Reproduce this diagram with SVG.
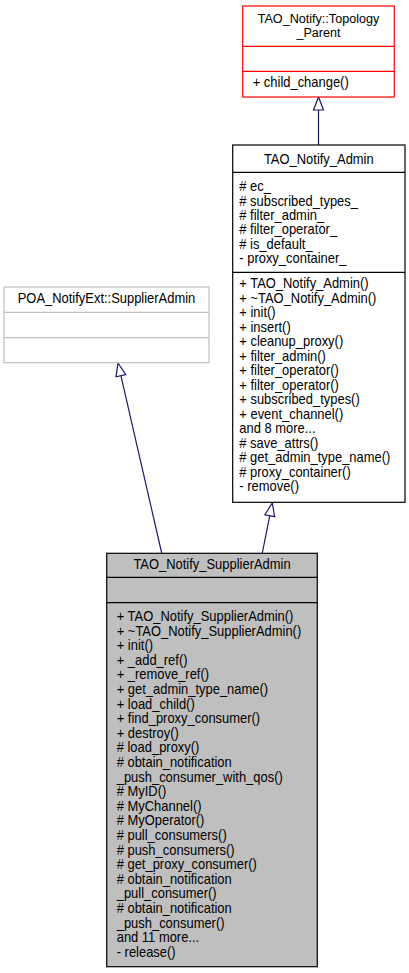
<svg xmlns="http://www.w3.org/2000/svg" width="409" height="973" viewBox="0 0 409 973">
<style>
text{font-family:"Liberation Sans",Arial,sans-serif;font-size:14px;fill:#000}
.c{text-anchor:middle}
.t2{font-size:13.5px}
.edge{stroke:#191970;stroke-width:1.2;fill:none}
.head{stroke:#191970;stroke-width:1.2;fill:#fff}
</style>
<rect width="409" height="973" fill="#fff"/>
<g id="connectors">
<line class="edge" x1="318.5" y1="145" x2="318.5" y2="110"/>
<polygon class="head" points="318.5,97 313.5,110 323.5,110"/>
<line class="edge" x1="161.7" y1="553" x2="120.9" y2="375.7"/>
<polygon class="head" points="118,363 125.8,374.6 116,376.8"/>
<line class="edge" x1="262.3" y1="553" x2="269.75" y2="515.7"/>
<polygon class="head" points="272.3,503 274.65,516.7 264.85,514.8"/>
</g>
<g id="topology_parent">
<rect x="242.7" y="6" width="151.6" height="91" fill="#fff" stroke="#ff0000" stroke-width="1.2"/>
<line x1="242.7" y1="46.3" x2="394.3" y2="46.3" stroke="#ff0000" stroke-width="1.2"/>
<line x1="242.7" y1="71.3" x2="394.3" y2="71.3" stroke="#ff0000" stroke-width="1.2"/>
<g transform="translate(318.5 0) scale(0.935 1)">
<text class="c t2" x="0" y="22.6">TAO_Notify::Topology</text>
<text class="c t2" x="0" y="37.4">_Parent</text>
</g>
<g transform="translate(252.7 0) scale(0.925 1)">
<text x="0" y="87.3">+ child_change()</text>
</g>
</g>
<g id="notify_admin">
<rect x="232.7" y="145" width="172.3" height="357.3" fill="#fff" stroke="#000" stroke-width="1.2"/>
<line x1="232.7" y1="172.3" x2="405" y2="172.3" stroke="#000" stroke-width="1.2"/>
<line x1="232.7" y1="272.3" x2="405" y2="272.3" stroke="#000" stroke-width="1.2"/>
<g transform="translate(318.8 0) scale(0.925 1)">
<text class="c" x="0" y="164">TAO_Notify_Admin</text>
</g>
<g transform="translate(239.3 0) scale(0.925 1)">
<text x="0" y="191.5">
<tspan x="0"># ec_</tspan>
<tspan x="0" dy="14.3"># subscribed_types_</tspan>
<tspan x="0" dy="14.3"># filter_admin_</tspan>
<tspan x="0" dy="14.3"># filter_operator_</tspan>
<tspan x="0" dy="14.3"># is_default_</tspan>
<tspan x="0" dy="14.3">- proxy_container_</tspan>
</text>
<text x="0" y="288.3">
<tspan x="0">+ TAO_Notify_Admin()</tspan>
<tspan x="0" dy="14.5">+ ~TAO_Notify_Admin()</tspan>
<tspan x="0" dy="14.5">+ init()</tspan>
<tspan x="0" dy="14.5">+ insert()</tspan>
<tspan x="0" dy="14.5">+ cleanup_proxy()</tspan>
<tspan x="0" dy="14.5">+ filter_admin()</tspan>
<tspan x="0" dy="14.5">+ filter_operator()</tspan>
<tspan x="0" dy="14.5">+ filter_operator()</tspan>
<tspan x="0" dy="14.5">+ subscribed_types()</tspan>
<tspan x="0" dy="14.5">+ event_channel()</tspan>
<tspan x="0" dy="14.5">and 8 more...</tspan>
<tspan x="0" dy="14.5"># save_attrs()</tspan>
<tspan x="0" dy="14.5"># get_admin_type_name()</tspan>
<tspan x="0" dy="14.5"># proxy_container()</tspan>
<tspan x="0" dy="14.5">- remove()</tspan>
</text>
</g>
</g>
<g id="poa_supplier_admin">
<rect x="4" y="287" width="205" height="75.7" fill="#fff" stroke="#bfbfbf" stroke-width="1.2"/>
<line x1="4" y1="312.3" x2="209" y2="312.3" stroke="#bfbfbf" stroke-width="1.2"/>
<line x1="4" y1="337.7" x2="209" y2="337.7" stroke="#bfbfbf" stroke-width="1.2"/>
<g transform="translate(106.5 0) scale(0.925 1)">
<text class="c" x="0" y="303.3">POA_NotifyExt::SupplierAdmin</text>
</g>
</g>
<g id="supplier_admin">
<rect x="106.7" y="553.3" width="210.6" height="413.4" fill="#bfbfbf" stroke="#000" stroke-width="1.2"/>
<line x1="106.7" y1="577.3" x2="317.3" y2="577.3" stroke="#000" stroke-width="1.2"/>
<line x1="106.7" y1="602.7" x2="317.3" y2="602.7" stroke="#000" stroke-width="1.2"/>
<g transform="translate(212 0) scale(0.925 1)">
<text class="c" x="0" y="569.3">TAO_Notify_SupplierAdmin</text>
</g>
<g transform="translate(116.7 0) scale(0.925 1)">
<text x="0" y="621">
<tspan x="0">+ TAO_Notify_SupplierAdmin()</tspan>
<tspan x="0" dy="14.6">+ ~TAO_Notify_SupplierAdmin()</tspan>
<tspan x="0" dy="14.6">+ init()</tspan>
<tspan x="0" dy="14.6">+ _add_ref()</tspan>
<tspan x="0" dy="14.6">+ _remove_ref()</tspan>
<tspan x="0" dy="14.6">+ get_admin_type_name()</tspan>
<tspan x="0" dy="14.6">+ load_child()</tspan>
<tspan x="0" dy="14.6">+ find_proxy_consumer()</tspan>
<tspan x="0" dy="14.6">+ destroy()</tspan>
<tspan x="0" dy="14.6"># load_proxy()</tspan>
<tspan x="0" dy="14.6"># obtain_notification</tspan>
<tspan x="0" dy="14.6">_push_consumer_with_qos()</tspan>
<tspan x="0" dy="14.6"># MyID()</tspan>
<tspan x="0" dy="14.6"># MyChannel()</tspan>
<tspan x="0" dy="14.6"># MyOperator()</tspan>
<tspan x="0" dy="14.6"># pull_consumers()</tspan>
<tspan x="0" dy="14.6"># push_consumers()</tspan>
<tspan x="0" dy="14.6"># get_proxy_consumer()</tspan>
<tspan x="0" dy="14.6"># obtain_notification</tspan>
<tspan x="0" dy="14.6">_pull_consumer()</tspan>
<tspan x="0" dy="14.6"># obtain_notification</tspan>
<tspan x="0" dy="14.6">_push_consumer()</tspan>
<tspan x="0" dy="14.6">and 11 more...</tspan>
<tspan x="0" dy="14.6">- release()</tspan>
</text>
</g>
</g>
</svg>
